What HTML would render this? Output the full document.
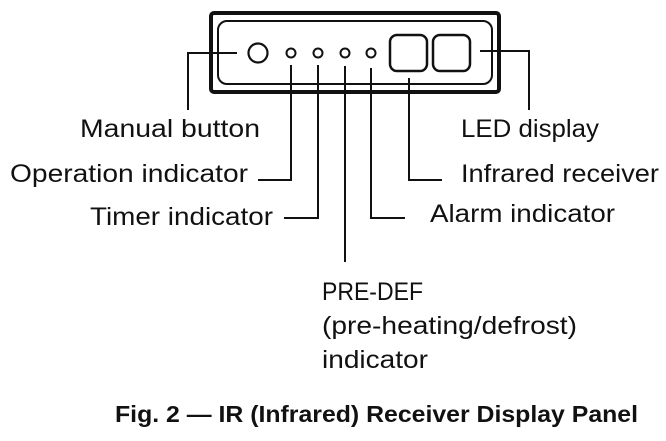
<!DOCTYPE html>
<html><head><meta charset="utf-8"><style>
html,body{margin:0;padding:0;background:#fff;width:666px;height:441px;overflow:hidden}
svg{display:block}
text{font-family:"Liberation Sans",sans-serif;fill:#111}
</style></head><body>
<svg width="666" height="441" viewBox="0 0 666 441">
<g fill="none" stroke="#111">
<rect x="211" y="13" width="288" height="79" rx="3" stroke-width="4"/>
<rect x="218" y="21" width="274" height="63" rx="9" stroke-width="2"/>
<circle cx="258" cy="53" r="9.5" stroke-width="2.2"/>
<circle cx="291" cy="53" r="4.5" stroke-width="2"/>
<circle cx="318" cy="53" r="4.5" stroke-width="2"/>
<circle cx="345" cy="53" r="4.5" stroke-width="2"/>
<circle cx="371" cy="53" r="4.5" stroke-width="2"/>
<rect x="390" y="35" width="37" height="36" rx="7" stroke-width="2.5"/>
<rect x="433" y="35" width="37" height="36" rx="7" stroke-width="2.5"/>
<g stroke-width="2">
<polyline points="237,53 188,53 188,110"/>
<polyline points="480,51 529,51 529,110"/>
<polyline points="291,65 291,180 258,180"/>
<polyline points="318,65 318,218 284,218"/>
<polyline points="345,66 345,262"/>
<polyline points="371,68 371,218 405,218"/>
<polyline points="409,78 409,180 442,180"/>
</g>
</g>
<g font-size="25">
<text x="80" y="137" textLength="180" lengthAdjust="spacingAndGlyphs">Manual button</text>
<text x="10" y="182" textLength="238" lengthAdjust="spacingAndGlyphs">Operation indicator</text>
<text x="90" y="225" textLength="183" lengthAdjust="spacingAndGlyphs">Timer indicator</text>
<text x="461" y="137" textLength="138" lengthAdjust="spacingAndGlyphs">LED display</text>
<text x="461" y="182" textLength="198" lengthAdjust="spacingAndGlyphs">Infrared receiver</text>
<text x="430" y="222" textLength="185" lengthAdjust="spacingAndGlyphs">Alarm indicator</text>
<text x="322" y="300" textLength="101" lengthAdjust="spacingAndGlyphs">PRE-DEF</text>
<text x="322" y="334" textLength="255" lengthAdjust="spacingAndGlyphs">(pre-heating/defrost)</text>
<text x="322" y="368" textLength="106" lengthAdjust="spacingAndGlyphs">indicator</text>
</g>
<text x="115" y="422" font-size="23" font-weight="bold" textLength="523" lengthAdjust="spacingAndGlyphs">Fig. 2 — IR (Infrared) Receiver Display Panel</text>
</svg>
</body></html>
